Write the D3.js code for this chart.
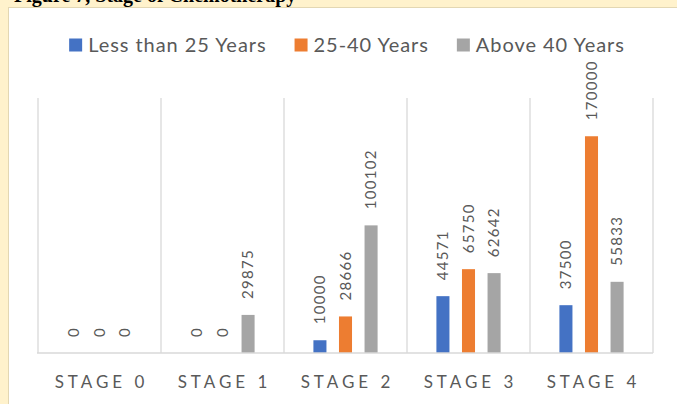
<!DOCTYPE html>
<html>
<head>
<meta charset="utf-8">
<script src="https://cdn.jsdelivr.net/npm/d3@7"></script>
<style>
body { margin:0; background:#fff2cc; }
#graph { width:677px; height:404px; }
</style>
</head>
<body>
<div id="graph"></div>
<script>
!(function(){
"use strict"
// chart data
var stages = ["Stage 0", "Stage 1", "Stage 2", "Stage 3", "Stage 4"]
var seriesNames = ["Less than 25 Years", "25-40 Years", "Above 40 Years"]
var lessThan25 = [0, 0, 10000, 44571, 37500]
var from25to40 = [0, 0, 28666, 65750, 170000]
var above40 = [0, 29875, 100102, 62642, 55833]
var seriesColors = ["#4472c4", "#ed7d31", "#a5a5a5"]
var yMax = 200000

var width = 677, height = 404
var plot = {left:38, right:653, top:98, bottom:353}
var textColor = "#595959"
var gridColor = "#d9d9d9"

var svg = d3.select("#graph").append("svg")
	.attr("width", width).attr("height", height)

main()

function main() {
	drawFrame()
	drawTitle()
	drawLegend()
	drawChart()
}

function drawFrame() {
	svg.append("rect") // yellow page round the chart
		.attr("width", width).attr("height", height)
		.attr("fill", "#fff2cc")
	svg.append("rect") // white chart area
		.attr("x", 8.5).attr("y", 7.5)
		.attr("width", width).attr("height", height)
		.attr("fill", "#fff")
		.attr("stroke", "#e3d7b3")
}

function drawTitle() {
	// title of the document, cut off by the top edge as in the page
	svg.append("text")
		.attr("x", 14).attr("y", 2)
		.attr("font-family", "Liberation Serif, serif")
		.attr("font-weight", "bold")
		.attr("font-size", 20)
		.attr("fill", "#000")
		.text("Figure 7, Stage of Chemotherapy")
}

function drawLegend() {
	var legend = svg.append("g")
	var x = 0
	seriesNames.forEach(function(name, i){
		var item = legend.append("g").attr("transform", "translate(" + x + ",0)")
		item.append("rect")
			.attr("x", 0).attr("y", 38.5)
			.attr("width", 13).attr("height", 13)
			.attr("fill", seriesColors[i])
		var t = item.append("text")
			.attr("x", 19).attr("y", 51.5)
			.attr("font-family", "Lato, sans-serif")
			.attr("font-size", 20)
			.attr("letter-spacing", 0.95)
			.attr("fill", textColor)
			.text(name)
		x += 19 + t.node().getComputedTextLength() + 28
	})
	var total = x - 28
	legend.attr("transform", "translate(" + (347 - total / 2) + ",0)")
}

function drawChart() {
	var rows = stages.map(function(s, i){
		return {stage: s, values: [lessThan25[i], from25to40[i], above40[i]]}
	})
	var x0 = d3.scaleBand().domain(stages).range([plot.left, plot.right])
	var x1 = d3.scaleBand().domain(d3.range(seriesNames.length))
		.range([0, x0.bandwidth()])
		.paddingInner(0.49).paddingOuter(1.15)
	var y = d3.scaleLinear().domain([0, yMax]).range([plot.bottom, plot.top])

	// category separators
	var seps = stages.map(function(s){ return x0(s) }).concat([plot.right])
	svg.append("g").selectAll("line")
		.data(seps).enter().append("line")
		.attr("x1", function(d){ return d }).attr("x2", function(d){ return d })
		.attr("y1", plot.top).attr("y2", plot.bottom)
		.attr("stroke", gridColor).attr("stroke-width", 1.3)

	var groups = svg.append("g").selectAll("g")
		.data(rows).enter().append("g")
		.attr("transform", function(d){ return "translate(" + x0(d.stage) + ",0)" })

	groups.selectAll("rect")
		.data(function(d){ return d.values }).enter().append("rect")
		.attr("x", function(d, i){ return x1(i) })
		.attr("width", x1.bandwidth())
		.attr("y", function(d){ return y(d) })
		.attr("height", function(d){ return plot.bottom - y(d) })
		.attr("fill", function(d, i){ return seriesColors[i] })

	// value labels, turned upright above each bar
	groups.selectAll("text")
		.data(function(d){ return d.values }).enter().append("text")
		.attr("transform", function(d, i){
			return "translate(" + (x1(i) + x1.bandwidth() / 2) + "," + (y(d) - 16) + ") rotate(-90)"
		})
		.attr("dy", "0.35em")
		.attr("font-family", "Lato, sans-serif")
		.attr("font-size", 15)
		.attr("letter-spacing", 1.3)
		.attr("fill", textColor)
		.text(function(d){ return d })

	// x axis line and stage names
	svg.append("line")
		.attr("x1", plot.left - 1).attr("x2", plot.right)
		.attr("y1", plot.bottom).attr("y2", plot.bottom)
		.attr("stroke", gridColor).attr("stroke-width", 1.3)

	var xAxis = d3.axisBottom(x0).tickSize(0).tickPadding(0)
		.tickFormat(function(d){ return d.toUpperCase() })
	var ax = svg.append("g")
		.attr("transform", "translate(0," + plot.bottom + ")")
		.call(xAxis)
	ax.select(".domain").remove()
	ax.selectAll("text")
		.attr("y", 35).attr("dy", 0)
		.attr("dx", 2)
		.attr("font-family", "Lato, sans-serif")
		.attr("font-size", 17)
		.attr("letter-spacing", 4)
		.attr("fill", textColor)
}
}());
</script>
</body>
</html>
